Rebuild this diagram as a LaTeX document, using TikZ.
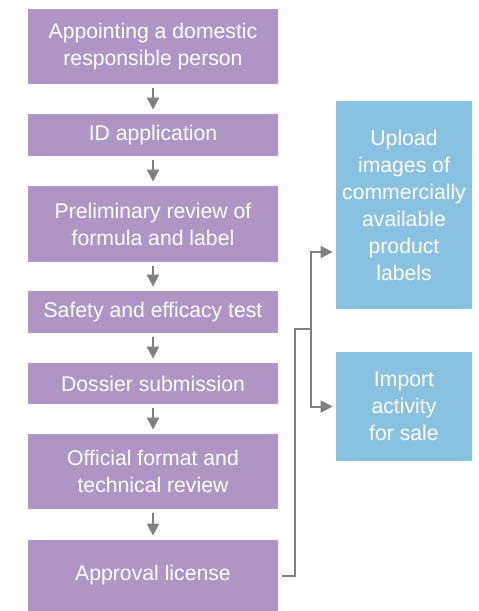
\documentclass[tikz,border=0pt]{standalone}
\usepackage{fontspec}
\setmainfont{Liberation Sans}
\usetikzlibrary{arrows.meta}

\definecolor{stagepurple}{HTML}{AF95C5}
\definecolor{sideblue}{HTML}{88C2E0}
\definecolor{linkgray}{HTML}{808080}

\tikzset{
  stage/.style={rectangle, fill=stagepurple, text=white, align=center,
    minimum width=125pt, inner sep=0pt,
    font=\fontsize{10.6pt}{13.5pt}\selectfont},
  side/.style={rectangle, fill=sideblue, text=white, align=center,
    minimum width=68pt, inner sep=0pt,
    font=\fontsize{10.6pt}{13.5pt}\selectfont},
  flow/.style={draw=linkgray, line width=1pt,
    -{Triangle[width=6pt,length=6pt]}},
  link/.style={draw=linkgray, line width=1pt},
}

\begin{document}
\begin{tikzpicture}[x=0.5pt,y=-0.5pt]

    \useasboundingbox (0,0) rectangle (478,611);

    \node[stage,minimum height=37.5pt] (appoint) at (153,46.5)
      {Appointing a domestic\\responsible person};
    \node[stage,minimum height=21pt] (idapp) at (153,135) {ID application};
    \node[stage,minimum height=38pt] (prelim) at (153,224)
      {Preliminary review of\\formula and label};
    \node[stage,minimum height=21pt] (safety) at (153,312)
      {Safety and efficacy test};
    \node[stage,minimum height=20.5pt] (dossier) at (153,383.5)
      {Dossier submission};
    \node[stage,minimum height=37.5pt] (official) at (153,471.5)
      {Official format and\\technical review};
    \node[stage,minimum height=35.5pt] (approval) at (153,575.5)
      {Approval license};

    \node[side,minimum height=104pt] (upload) at (404,205)
      {Upload\\images of\\commercially\\available\\product\\labels};
    \node[side,minimum height=54.5pt] (import) at (404,406.5)
      {Import\\activity\\for sale};

    % steps down the left column
    \foreach \a/\b in {appoint/idapp, idapp/prelim, prelim/safety,
                       safety/dossier, dossier/official, official/approval}
      \draw[flow,shorten <=2pt,shorten >=2pt] (\a) -- (\b);

    % branch to the right column
    \coordinate (split) at (311,329);
    \draw[link,shorten <=2pt] (approval.east) -- ++(17,0) |- (split);
    \draw[flow,shorten >=1.5pt] (split) |- ([yshift=-23.5pt]upload.west);
    \draw[flow,shorten >=1.5pt] (split) |- (import.west);

\end{tikzpicture}
\end{document}
